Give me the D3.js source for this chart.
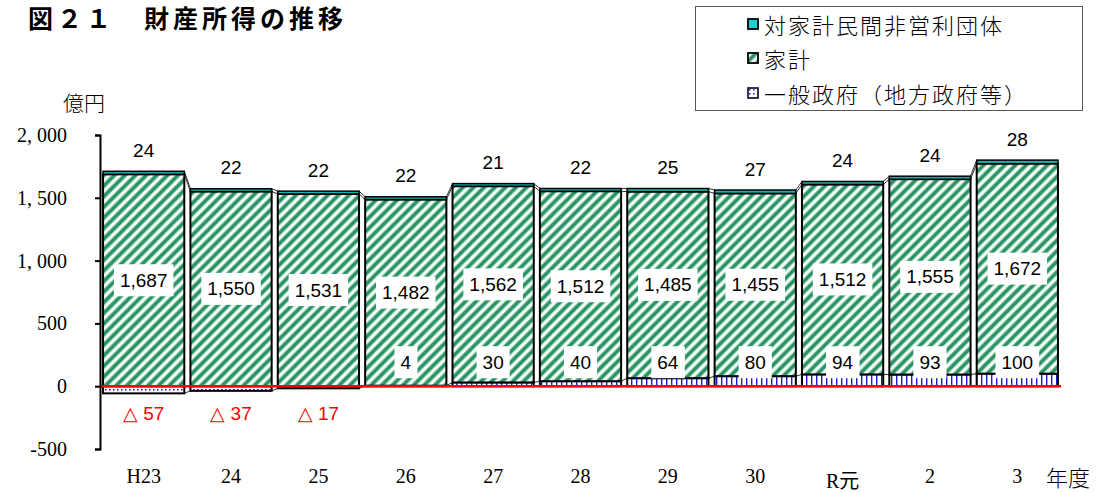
<!DOCTYPE html>
<html>
<head>
<meta charset="utf-8">
<script src="https://cdn.jsdelivr.net/npm/d3@7"></script>
<style>
  body { margin: 0; background: #fff; }
  svg { display: block; }
</style>
</head>
<body>
<div id="chart"></div>
<script>
// 財産所得の推移（億円）
var years = ["H23", "24", "25", "26", "27", "28", "29", "30", "R元", "2", "3"];
var govt = [-57, -37, -17, 4, 30, 40, 64, 80, 94, 93, 100];          // 一般政府（地方政府等）
var household = [1687, 1550, 1531, 1482, 1562, 1512, 1485, 1455, 1512, 1555, 1672]; // 家計
var npish = [24, 22, 22, 22, 21, 22, 25, 27, 24, 24, 28];            // 対家計民間非営利団体
var yTicks = [-500, 0, 500, 1000, 1500, 2000];
var legendNames = ["対家計民間非営利団体", "家計", "一般政府（地方政府等）"];

var serifFont = "'Liberation Serif', 'Noto Sans CJK JP', serif";
var jpFont = "'Noto Sans CJK JP', sans-serif";
var numFont = "'Liberation Sans', Arial, sans-serif";

var W = 1099, H = 493;
var svg = d3.select("#chart").append("svg")
  .attr("width", W)
  .attr("height", H);

// patterns
var defs = svg.append("defs");
var hh = defs.append("pattern")
  .attr("id", "hhPat")
  .attr("patternUnits", "userSpaceOnUse")
  .attr("width", 7.5).attr("height", 7.5)
  .attr("patternTransform", "rotate(45)");
hh.append("rect").attr("width", 7.5).attr("height", 7.5).attr("fill", "#f2fbf7");
hh.append("rect").attr("x", 0).attr("width", 4.6).attr("height", 7.5).attr("fill", "#98d4b8");
hh.append("rect").attr("x", 0.7).attr("width", 3.2).attr("height", 7.5).attr("fill", "#2b9263");

var gv = defs.append("pattern")
  .attr("id", "govPat")
  .attr("patternUnits", "userSpaceOnUse")
  .attr("width", 5).attr("height", 6);
gv.append("rect").attr("width", 5).attr("height", 6).attr("fill", "#fff");
gv.append("rect").attr("x", 1).attr("y", 0).attr("width", 1.4).attr("height", 6).attr("fill", "#1a1ad8");

var gvDot = defs.append("pattern")
  .attr("id", "govDot")
  .attr("patternUnits", "userSpaceOnUse")
  .attr("width", 4).attr("height", 4);
gvDot.append("rect").attr("width", 4).attr("height", 4).attr("fill", "#fff");
gvDot.append("rect").attr("x", 1).attr("y", 1).attr("width", 1.5).attr("height", 1.5).attr("fill", "#1a1ad8");

// scales
var x = d3.scaleBand()
  .domain(years)
  .range([100, 1061])
  .paddingInner(0.07)
  .paddingOuter(0.035);

var y = d3.scaleLinear()
  .domain([-500, 2000])
  .range([449, 135]);

// stacked rows
var rows = years.map(function(yr, i) {
  var base = Math.max(0, govt[i]);
  return {
    year: yr,
    gov: govt[i], hh: household[i], np: npish[i],
    g0: Math.min(0, govt[i]), g1: Math.max(0, govt[i]),
    h0: base, h1: base + household[i],
    n0: base + household[i], n1: base + household[i] + npish[i]
  };
});

// series lines (Excel style) between bars
var seriesKeys = ["g1", "h1", "n1", "g0"];
seriesKeys.forEach(function(k) {
  for (var i = 0; i < rows.length - 1; i++) {
    svg.append("line")
      .attr("x1", x(rows[i].year) + x.bandwidth())
      .attr("y1", y(rows[i][k]))
      .attr("x2", x(rows[i + 1].year))
      .attr("y2", y(rows[i + 1][k]))
      .attr("stroke", "#333")
      .attr("stroke-width", 1);
  }
});

var bars = svg.append("g");

// 一般政府
bars.selectAll("rect.gov")
  .data(rows.filter(function(d) { return d.gov !== 0; }))
  .enter().append("rect")
    .attr("class", "gov")
    .attr("x", function(d) { return x(d.year); })
    .attr("y", function(d) { return y(d.g1); })
    .attr("width", x.bandwidth())
    .attr("height", function(d) { return y(d.g0) - y(d.g1); })
    .attr("fill", function(d) { return d.gov < 0 ? "url(#govDot)" : "url(#govPat)"; })
    .attr("stroke", "#000")
    .attr("stroke-width", 2);

// 家計
bars.selectAll("rect.hh")
  .data(rows)
  .enter().append("rect")
    .attr("class", "hh")
    .attr("x", function(d) { return x(d.year); })
    .attr("y", function(d) { return y(d.h1); })
    .attr("width", x.bandwidth())
    .attr("height", function(d) { return y(d.h0) - y(d.h1); })
    .attr("fill", "url(#hhPat)")
    .attr("stroke", "#000")
    .attr("stroke-width", 2);

// 対家計民間非営利団体
bars.selectAll("rect.np")
  .data(rows)
  .enter().append("rect")
    .attr("class", "np")
    .attr("x", function(d) { return x(d.year); })
    .attr("y", function(d) { return y(d.n1); })
    .attr("width", x.bandwidth())
    .attr("height", function(d) { return y(d.n0) - y(d.n1); })
    .attr("fill", "#17b3b3")
    .attr("stroke", "#000")
    .attr("stroke-width", 1.5);

// zero line
svg.append("line")
  .attr("x1", 100).attr("x2", 1061)
  .attr("y1", y(0)).attr("y2", y(0))
  .attr("stroke", "#ff0000")
  .attr("stroke-width", 2.5);

// y axis
var yAxis = svg.append("g")
  .attr("transform", "translate(100,0)")
  .call(d3.axisLeft(y)
    .tickValues(yTicks)
    .tickSize(5)
    .tickSizeOuter(5)
    .tickPadding(28)
    .tickFormat(function(d) { return d3.format(",")(d).replace(",", ", ").replace("−", "-"); }));
yAxis.attr("font-family", null).attr("font-size", null);
yAxis.select(".domain").attr("stroke", "#000").attr("stroke-width", 2);
yAxis.selectAll(".tick line").attr("stroke", "#000").attr("stroke-width", 2);
yAxis.selectAll(".tick text")
  .style("font-family", serifFont)
  .style("font-weight", "normal")
  .style("font-size", "20px")
  .attr("fill", "#000");

// category labels
svg.append("g").selectAll("text")
  .data(years)
  .enter().append("text")
    .attr("x", function(d) { return x(d) + x.bandwidth() / 2; })
    .attr("y", function(d) { return /[^\x00-\x7f]/.test(d) ? 488 : 483; })
    .attr("text-anchor", "middle")
    .style("font-family", serifFont)
    .style("font-weight", "normal")
    .style("font-size", "20px")
    .text(function(d) { return d; });

// boxed label helper
function boxLabel(g, cx, cy, txt) {
  var t = g.append("text")
    .attr("x", cx).attr("y", cy)
    .attr("text-anchor", "middle")
    .attr("dominant-baseline", "central")
    .style("font-family", numFont)
    .style("font-size", "19px")
    .attr("fill", "#000")
    .text(txt);
  var bb = t.node().getBBox();
  g.insert("rect", function() { return t.node(); })
    .attr("x", bb.x - 6).attr("y", cy - 16)
    .attr("width", bb.width + 12).attr("height", 32)
    .attr("fill", "#fff");
}

var labels = svg.append("g");
rows.forEach(function(d) {
  var cx = x(d.year) + x.bandwidth() / 2;
  // 家計
  boxLabel(labels.append("g"), cx, (y(d.h0) + y(d.h1)) / 2, d3.format(",")(d.hh));
  // 対家計民間非営利団体
  labels.append("text")
    .attr("x", cx).attr("y", y(d.n1) - 21)
    .attr("text-anchor", "middle")
    .attr("dominant-baseline", "central")
    .style("font-family", numFont)
    .style("font-size", "19px")
    .text(d.np);
  // 一般政府
  if (d.gov >= 0) {
    boxLabel(labels.append("g"), cx, y(0) - 24, String(d.gov));
  } else {
    labels.append("text")
      .attr("x", cx).attr("y", y(0) + 27)
      .attr("text-anchor", "middle")
      .attr("dominant-baseline", "central")
      .style("font-family", numFont)
      .style("font-size", "19px")
      .attr("fill", "#ff0000")
      .text("△ " + Math.abs(d.gov));
  }
});

// title & unit labels
svg.append("text")
  .attr("x", 28).attr("y", 28)
  .style("font-family", jpFont)
  .style("font-weight", "bold")
  .style("font-size", "25px")
  .attr("letter-spacing", "4px")
  .text("図２１　財産所得の推移");

svg.append("text")
  .attr("x", 63).attr("y", 111)
  .style("font-family", jpFont)
  .style("font-weight", 300)
  .style("font-size", "21px")
  .text("億円");

svg.append("text")
  .attr("x", 1046).attr("y", 486)
  .style("font-family", jpFont)
  .style("font-weight", 300)
  .style("font-size", "22px")
  .text("年度");

// legend
var legend = svg.append("g");
legend.append("rect")
  .attr("x", 695.5).attr("y", 6.5)
  .attr("width", 387).attr("height", 104)
  .attr("fill", "#fff")
  .attr("stroke", "#555")
  .attr("stroke-width", 1);

var legendFills = ["#22d0d0", "url(#hhPat)", "url(#govDot)"];
var legendY = [24, 58, 93];
legendNames.forEach(function(name, i) {
  legend.append("rect")
    .attr("x", 748).attr("y", legendY[i] - 5)
    .attr("width", 10).attr("height", 10)
    .attr("fill", legendFills[i])
    .attr("stroke", i === 2 ? "#223" : "#000")
    .attr("stroke-width", 1.8);
  legend.append("text")
    .attr("x", 764).attr("y", legendY[i])
    .attr("dominant-baseline", "central")
    .style("font-family", jpFont)
    .style("font-weight", 300)
    .style("font-size", "22px")
    .attr("letter-spacing", "2px")
    .text(name);
});
</script>
</body>
</html>
